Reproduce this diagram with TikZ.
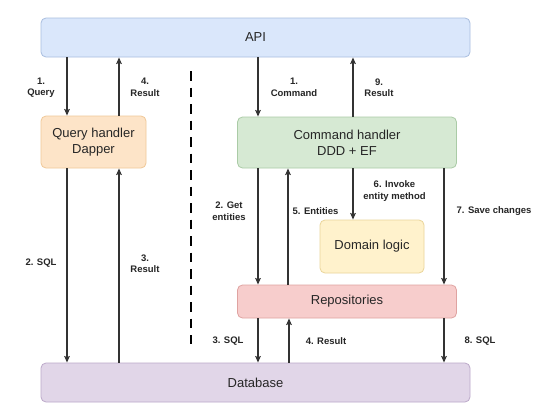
\documentclass[tikz,border=0pt]{standalone}
\usepackage{fontspec}
\setmainfont{Liberation Sans}
\usetikzlibrary{arrows.meta}
\definecolor{apiF}{HTML}{DAE7FB}\definecolor{apiD}{HTML}{A9BEDF}
\definecolor{qhF}{HTML}{FDE4C8}\definecolor{qhD}{HTML}{F0C898}
\definecolor{chF}{HTML}{D6E9D3}\definecolor{chD}{HTML}{AACBA6}
\definecolor{dlF}{HTML}{FFF2CC}\definecolor{dlD}{HTML}{EAD59A}
\definecolor{rpF}{HTML}{F7CDCC}\definecolor{rpD}{HTML}{DFA3A1}
\definecolor{dbF}{HTML}{E1D6E8}\definecolor{dbD}{HTML}{BCA9C9}
\definecolor{ln}{HTML}{333333}
\begin{document}
\begin{tikzpicture}[x=1pt,y=-1pt,
  box/.style={draw, line width=0.8pt, rounded corners=5pt, inner sep=0pt, align=center,
    font=\fontsize{13}{16}\selectfont, text=black!85},
  arr/.style={draw=ln, line width=1.3pt, -{Stealth[length=6.5pt,width=5.5pt,inset=1pt]}},
  lbl/.style={font=\bfseries\fontsize{9.5}{11.5}\selectfont, align=center, text=black!85, inner sep=0pt}]
\useasboundingbox[fill=white] (0,0) rectangle (554,415);
% boxes
\node[box, fill=apiF, draw=apiD, minimum width=429pt, minimum height=39pt] (api) at (255.5,37.5) {API};
\node[box, fill=qhF, draw=qhD, minimum width=105pt, minimum height=52pt] (qh) at (93.5,142) {Query handler\\Dapper};
\node[box, fill=chF, draw=chD, minimum width=219pt, minimum height=51pt] (ch) at (347,142.5) {Command handler\\DDD + EF};
\node[box, fill=dlF, draw=dlD, minimum width=104pt, minimum height=53pt] (dl) at (372,246.5) {Domain logic};
\node[box, fill=rpF, draw=rpD, minimum width=219pt, minimum height=33pt] (rp) at (347,301.5) {Repositories};
\node[box, fill=dbF, draw=dbD, minimum width=429pt, minimum height=39pt] (db) at (255.5,382.5) {Database};
% divider
\coordinate (dtop) at (191,71);
\coordinate (dbot) at (191,344);
\draw[line width=2.6pt, dash pattern=on 9.5pt off 7pt] (dtop) -- (dbot);
% query side
\draw[arr] (67,0 |- api.south) -- (67,0 |- qh.north);
\draw[arr] (119,0 |- qh.north) -- (119,0 |- api.south);
\draw[arr] (67,0 |- qh.south) -- (67,0 |- db.north);
\draw[arr] (119,0 |- db.north) -- (119,0 |- qh.south);
% command side
\draw[arr] (258,0 |- api.south) -- (258,0 |- ch.north);
\draw[arr] (353,0 |- ch.north) -- (353,0 |- api.south);
\draw[arr] (258,0 |- ch.south) -- (258,0 |- rp.north);
\draw[arr] (288,0 |- rp.north) -- (288,0 |- ch.south);
\draw[arr] (353,0 |- ch.south) -- (353,0 |- dl.north);
\draw[arr] (444,0 |- ch.south) -- (444,0 |- rp.north);
\draw[arr] (258,0 |- rp.south) -- (258,0 |- db.north);
\draw[arr] (289,0 |- db.north) -- (289,0 |- rp.south);
\draw[arr] (444,0 |- rp.south) -- (444,0 |- db.north);
% labels
\node[lbl] (l1) at (41,87.5) {1.\\Query};
\node[lbl] (l2) at (145,87.5) {4.\\Result};
\node[lbl] (l3) at (294,87.5) {1.\\Command};
\node[lbl] (l4) at (379,87.5) {9.\\Result};
\node[lbl] (l5) at (229,211) {2. Get\\entities};
\node[lbl] (l6) at (315.5,211) {5. Entities};
\node[lbl] (l7) at (394.5,191) {6. Invoke\\entity method};
\node[lbl] (l8) at (494,211) {7. Save changes};
\node[lbl] (l9) at (41,263) {2. SQL};
\node[lbl] (l10) at (145,263.5) {3.\\Result};
\node[lbl] (l11) at (228,341) {3. SQL};
\node[lbl] (l12) at (326,341) {4. Result};
\node[lbl] (l13) at (480,341) {8. SQL};
\end{tikzpicture}
\end{document}
